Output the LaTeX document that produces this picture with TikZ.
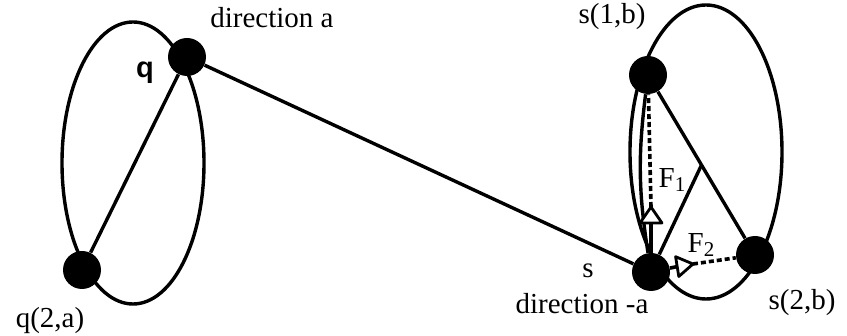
\documentclass[tikz,border=0pt]{standalone}
\usepackage{fontspec}
\setmainfont{Liberation Serif}
\newfontfamily\lsans{Liberation Sans}
\usetikzlibrary{calc}
\begin{document}
\begin{tikzpicture}[x=0.5pt,y=-0.5pt,
  dot/.style={circle,fill=black,inner sep=0pt,minimum size=19pt},
  edge/.style={line width=1.7pt},
  lbl/.style={font=\fontsize{14.5}{16}\selectfont, inner sep=0pt},
  shaft/.style={line width=1.8pt},
  head/.style={line width=1.4pt,fill=white,line join=round},
  guide/.style={line width=1.8pt,dash pattern=on 2.5pt off 1.5pt}]
\useasboundingbox (0,0) rectangle (847,336);
% ellipses
\draw[edge] (133,163) ellipse [x radius=71, y radius=141];
\draw[edge] (706,152) ellipse [x radius=76, y radius=147];
% dots
\node[dot] (q) at (187,57) {};
\node[dot] (q2) at (82,270) {};
\node[dot] (s1) at (648,75) {};
\node[dot] (s) at (651,272) {};
\node[dot] (s2) at (755,255) {};
% edges
\draw[edge] (q) -- (q2);
\draw[edge] (q) -- (s);
\draw[edge] (s1) -- (s2);
\coordinate (m) at ($(s1)!0.5!(s2)$);
\draw[edge] (s) -- (m);
\draw[edge] (s) to[bend left=8] (s1);
% force F1
\coordinate (f1) at (651,207);
\coordinate (f1b) at (651,223);
\coordinate (f1l) at (640,223);
\coordinate (f1r) at (662,223);
\draw[shaft] (s) -- (f1b);
\draw[guide] (f1) -- (s1);
\draw[head] (f1) -- (f1l) -- (f1r) -- cycle;
% force F2
\coordinate (f2) at (693,264);
\coordinate (f2b) at (677.2,266.6);
\coordinate (f2l) at (678.8,276.5);
\coordinate (f2r) at (675.6,256.7);
\draw[shaft] (s) -- (f2b);
\draw[guide] (f2) -- (s2);
\draw[head] (f2) -- (f2l) -- (f2r) -- cycle;
% labels
\node[lbl] (ldira) at (272,18) {direction a};
\node[lbl,font=\fontsize{14.5}{16}\selectfont\lsans\bfseries] (lq) at (145,73) {q};
\node[lbl] (lq2) at (50,321) {q(2,a)};
\node[lbl] (ls1) at (612,17) {s(1,b)};
\node[lbl] (ls) at (588,271) {s};
\node[lbl] (ldirma) at (582,304) {direction -a};
\node[lbl] (ls2) at (802,303) {s(2,b)};
\node[lbl] (lf1) at (672,180) {F\raisebox{-0.35ex}{\fontsize{10.5}{12}\selectfont 1}};
\node[lbl] (lf2) at (701,245) {F\raisebox{-0.35ex}{\fontsize{10.5}{12}\selectfont 2}};
\end{tikzpicture}
\end{document}
